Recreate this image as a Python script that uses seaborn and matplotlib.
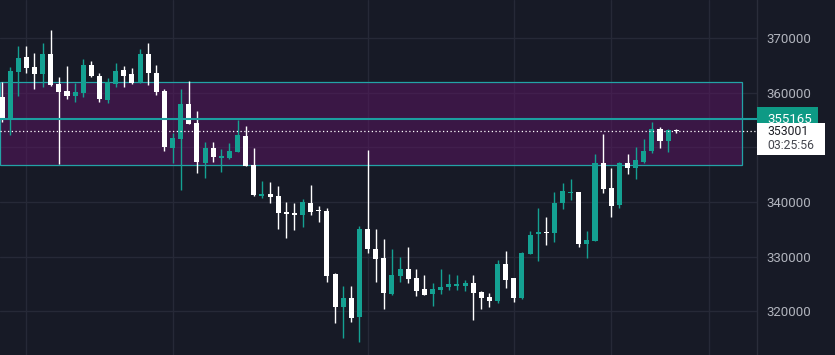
import numpy as np
import matplotlib
matplotlib.use('Agg')
import matplotlib.pyplot as plt
import matplotlib.transforms as mtransforms
from matplotlib.patches import Rectangle
import pandas as pd
import seaborn as sns

## velas (open, high, low, close)
opens = [359300, 355340, 363880, 366570, 364740, 363460, 367120, 361620, 360400, 359420,
         360030, 365110, 363090, 358690, 361620, 364190, 363460, 362040, 367120, 363580,
         360340, 349950, 351540, 357960, 354530, 347200, 349890, 348110, 348060, 349210,
         352090, 346780, 341090, 341460, 341150, 338110, 337980, 337670, 339870, 338580,
         338340, 326740, 320800, 322450, 318970, 335040, 331380, 329730, 323130, 326430,
         327660, 326120, 324100, 323130, 323860, 324410, 324600, 324600, 325150, 323500,
         322640, 321900, 328630, 326120, 322400, 330460, 334130, 334490, 334370, 339810,
         341640, 341880, 332300, 332900, 347200, 342510, 339440, 347200, 346280, 347270,
         349340, 353370, 351180, 353120]
highs = [361930, 364680, 368590, 368590, 367250, 369080, 371520, 362850, 364920, 361860,
         366210, 365840, 363690, 362720, 365530, 364920, 364610, 367980, 369190, 365110,
         360710, 352590, 360620, 362170, 356670, 350990, 350990, 349710, 350810, 355020,
         353920, 349840, 343840, 343660, 342980, 340050, 339760, 340490, 343160, 339260,
         338840, 327030, 324600, 324600, 335590, 349530, 335040, 333210, 331380, 329970,
         331750, 327710, 326610, 325090, 327710, 326800, 326610, 325700, 326610, 323680,
         323370, 329360, 331070, 326120, 330880, 334680, 338890, 337300, 341880, 343530,
         344210, 341880, 334730, 348790, 352460, 346170, 347380, 348790, 350020, 351490,
         354600, 353690, 353370, 353370]
lows = [354710, 352270, 359420, 363690, 360710, 361130, 361260, 346960, 358930, 358380,
        359300, 362960, 358380, 358200, 361130, 361130, 361620, 361860, 361440, 359610,
        349400, 347090, 342190, 354290, 345360, 344450, 347380, 345490, 347880, 349210,
        346650, 341090, 340780, 339870, 335040, 333450, 334860, 335360, 337670, 336380,
        325380, 317870, 315120, 318050, 314390, 330590, 325380, 320330, 322950, 325380,
        325200, 322760, 322950, 320930, 323130, 323860, 323860, 323680, 318360, 320380,
        320800, 321540, 324180, 321720, 322270, 330460, 329230, 332110, 332720, 338660,
        340360, 331800, 329780, 332900, 341700, 337300, 338840, 345130, 344210, 347200,
        349030, 349950, 349210, 352590]
closes = [355340, 364010, 366440, 364610, 363460, 367120, 361440, 360160, 359420, 360210,
          365110, 363090, 358870, 361930, 364060, 363090, 361750, 367120, 363580, 360210,
          350130, 351780, 357960, 354380, 347330, 349890, 348300, 348300, 349400, 352270,
          346650, 341280, 341460, 340970, 338030, 337850, 337670, 339940, 338160, 338340,
          326430, 320800, 322450, 318790, 335040, 331380, 329550, 323370, 326610, 327660,
          325930, 323740, 323000, 324050, 324470, 324960, 324960, 325200, 323370, 322450,
          321900, 328630, 325700, 322450, 330700, 333940, 334490, 334310, 339760, 342010,
          341880, 332300, 333030, 347200, 342380, 339320, 347200, 346280, 347690, 349400,
          353370, 351180, 353190, 353001]

zona_top, zona_bot = 361950, 346770   # zona violeta
linea_precio = 355165
ultimo = 353001
hora = '03:25:56'
ygrid = [320000, 330000, 340000, 350000, 360000, 370000]
yticks = [320000, 330000, 340000, 360000, 370000]   # 350000 queda tapado por la etiqueta
xgrid = [3, 21, 45, 63, 75, 87]

df = pd.DataFrame({'open': opens, 'high': highs, 'low': lows, 'close': closes})
df['up'] = df['close'] >= df['open']

bg = '#171a26'
grid = '#262937'
teal = '#14a192'
blanco = '#ffffff'

sns.set_theme(style='dark', rc={'axes.facecolor': bg, 'figure.facecolor': bg})
plt.rcParams['font.family'] = ['Roboto', 'DejaVu Sans']

fig = plt.figure(figsize=(8.35, 3.55), dpi=100)
ax = fig.add_axes([0, 0, 757 / 835, 1])
ax.set_facecolor(bg)

ymin, ymax = 311950, 377020
ax.set_ylim(ymin, ymax)
ax.set_xlim(-0.246, 92.94)
dpx = (ymax - ymin) / 355.0   # precio por pixel

# grilla
for v in ygrid:
    ax.axhline(v, color=grid, lw=1, zorder=0)
for v in xgrid:
    ax.axvline(v, color=grid, lw=1, zorder=0)

# zona
ax.add_patch(Rectangle((-0.246, zona_bot), 91.09 + 0.246, zona_top - zona_bot,
                       facecolor='#5d1664', alpha=0.5, edgecolor='none', zorder=1))
ax.add_patch(Rectangle((-0.246, zona_bot), 91.09 + 0.246, zona_top - zona_bot,
                       facecolor='none', edgecolor='#23a3a6', lw=0.9, zorder=2))

# velas
for i, r in df.iterrows():
    c = teal if r['up'] else blanco
    ax.vlines(i, r['low'], r['high'], color=c, lw=1, zorder=3)
    lo = min(r['open'], r['close'])
    h = max(abs(r['close'] - r['open']), 250)
    ax.bar(i, h, bottom=lo, width=0.62, color=c, edgecolor='none', zorder=4)

# lineas de precio
ax.axhline(linea_precio, color='#1c9fa0', lw=1.5, zorder=5)
ax.plot([-0.246, 92.7], [ultimo, ultimo], color='white', lw=0.9, ls=(0, (1, 2)), zorder=5)

# eje de precios
ax.yaxis.tick_right()
ax.set_yticks(yticks)
ax.set_yticklabels([str(v) for v in yticks])
ax.tick_params(axis='y', length=0, pad=7, labelcolor='#b2b5be', labelsize=9.5)
ax.set_xticks([])
for s in ['top', 'left', 'bottom']:
    ax.spines[s].set_visible(False)
ax.spines['right'].set_color('#2a2d3a')
ax.spines['right'].set_linewidth(1)
ax.grid(False)

# etiquetas
trans = mtransforms.blended_transform_factory(ax.transAxes, ax.transData)
ax.add_patch(Rectangle((1.0, linea_precio - 12 * dpx), 61 / 757, 24 * dpx, transform=trans,
                       facecolor='#0e9a85', edgecolor='none', clip_on=False, zorder=6))
ax.text(1 + 10 / 757, linea_precio, str(linea_precio), transform=trans, color='white',
        fontsize=9.5, va='center', ha='left', clip_on=False, zorder=7)
ax.add_patch(Rectangle((1.0, ultimo - 23.5 * dpx), 68 / 757, 31.5 * dpx, transform=trans,
                       facecolor='white', edgecolor='none', clip_on=False, zorder=8))
ax.text(1 + 10 / 757, ultimo, str(ultimo), transform=trans, color='#1e1f26',
        fontsize=8.8, va='center', ha='left', clip_on=False, zorder=9)
ax.text(1 + 10 / 757, ultimo - 14.5 * dpx, hora, transform=trans, color='#45474f',
        fontsize=8.8, va='center', ha='left', clip_on=False, zorder=9)

plt.savefig('out.png', dpi=100, facecolor=bg)
